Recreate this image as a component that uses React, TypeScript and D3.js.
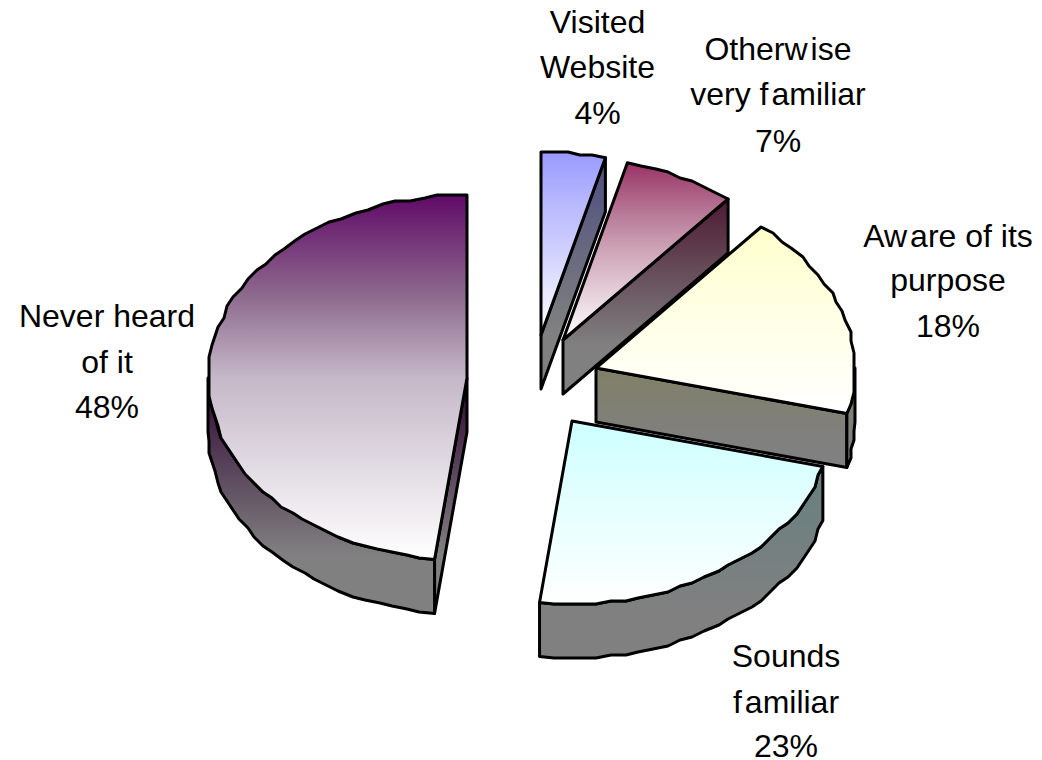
import React from "react";
import * as d3 from "d3";

const categories = ["Visited Website", "Otherwise very familiar", "Aware of its purpose", "Sounds familiar", "Never heard of it"];
const values = [4, 7, 18, 23, 48];
const labelLines = [["Visited", "Website", "4%"], ["Otherwise", "very familiar", "7%"], ["Aware of its", "purpose", "18%"], ["Sounds", "familiar", "23%"], ["Never heard", "of it", "48%"]];
const topColors = ["#9999ff", "#993366", "#ffffcc", "#ccffff", "#600a68"];
// face colours at 28% and 50% of each face's height
const midColors28 = ["#b8b8ff", "#b77896", "#ffffdb", "#dcffff", "#8e6b8e"];
const midColors50 = ["#ccccff", "#cfa6b8", "#ffffe6", "#e6ffff", "#c5b8c8"];

// layout
const W = 1042, H = 760;
const RX = 259, RY = 183, DEPTH = 54;
const apexX = [541, 563, 596, 572, 467];
const apexY = [335, 340, 368, 421, 378];
const labelX = [597.5, 778, 948, 786, 107];
const labelY = [[33, 78, 124], [60, 105, 152], [247, 291, 337], [667, 713, 757], [327, 373, 418]];
const FONT = 32;

const sx = d3.scaleLinear().domain([-1, 1]).range([-RX, RX]);
const sy = d3.scaleLinear().domain([-1, 1]).range([-RY, RY]);
const Q = 3;
const snap = (v: number) => Math.round(v / Q) * Q;
const line = d3.line<[number, number]>();

const slices = d3.pie<number>().sort(null)(values);

function arcPts(a0: number, a1: number): [number, number][] {
  const pts: [number, number][] = [];
  const n = Math.max(2, Math.round((a1 - a0) / (3.2 * Math.PI / 180)));
  for (let i = 0; i <= n; i++) {
    const a = a0 + ((a1 - a0) * i) / n;
    const x = sx(Math.sin(a)), y = sy(-Math.cos(a));
    pts.push(i === 0 || i === n ? [x, y] : [snap(x), snap(y)]);
  }
  return pts;
}
const shift = (p: [number, number][], dx: number, dy: number): [number, number][] => p.map(([x, y]) => [x + dx, y + dy]);
const dark = (c: string) => d3.interpolateRgb(c, "#000000")(0.5);

function wallsOf(i: number): [number, number][][] {
  const s = slices[i];
  const cx = apexX[i], cy = apexY[i];
  const rim = shift(arcPts(s.startAngle, s.endAngle), cx, cy);
  const apex: [number, number] = [cx, cy];
  const first = rim[0], last = rim[rim.length - 1];
  const walls: [number, number][][] = [];
  if (s.endAngle < Math.PI) walls.push([apex, last, [last[0], last[1] + DEPTH], [cx, cy + DEPTH]]);
  if (s.startAngle > Math.PI) walls.push([apex, first, [first[0], first[1] + DEPTH], [cx, cy + DEPTH]]);
  const a0 = Math.max(s.startAngle, Math.PI / 2), a1 = Math.min(s.endAngle, (3 * Math.PI) / 2);
  if (a1 > a0) {
    const t = shift(arcPts(a0, a1), cx, cy);
    walls.push([...t, ...shift(t, 0, DEPTH).reverse()]);
  }
  return walls;
}

function Label({ text, x, y }: { text: string; x: number; y: number }) {
  const m = text.match(/^(Aw|Otherw|very f|f)([ai].*)$/);
  return (
    <text x={x} y={y} textAnchor="middle" fontFamily="'Liberation Sans', Arial, sans-serif" fontSize={FONT} fill="#000">
      {m ? (<><tspan>{m[1]}</tspan><tspan dx={3}>{m[2]}</tspan></>) : text}
    </text>
  );
}

export default function App() {
  return (
    <svg width={W} height={H} viewBox={`0 0 ${W} ${H}`} style={{ position: "absolute", left: 0, top: 0, background: "#fff" }}>
      <defs>
        {slices.map((s, i) => {
          const pts = arcPts(s.startAngle, s.endAngle);
          const ys = [...pts.map((p) => p[1]), 0];
          const top = apexY[i] + d3.min(ys)!, bot = apexY[i] + d3.max(ys)!;
          const wallYs = wallsOf(i).flat().map((p) => p[1]);
          return (
            <React.Fragment key={i}>
              <linearGradient id={`face${i}`} gradientUnits="userSpaceOnUse" x1={0} x2={0} y1={top} y2={bot}>
                <stop offset="0" stopColor={topColors[i]} />
                <stop offset="0.28" stopColor={midColors28[i]} />
                <stop offset="0.5" stopColor={midColors50[i]} />
                <stop offset="1" stopColor="#ffffff" />
              </linearGradient>
              <linearGradient id={`side${i}`} gradientUnits="userSpaceOnUse" x1={0} x2={0} y1={d3.min(wallYs)!} y2={d3.max(wallYs)!}>
                <stop offset="0" stopColor={dark(topColors[i])} />
                <stop offset="0.75" stopColor="#808080" />
                <stop offset="1" stopColor="#808080" />
              </linearGradient>
            </React.Fragment>
          );
        })}
      </defs>
      {slices.map((s, i) => {
        const apex: [number, number] = [apexX[i], apexY[i]];
        const rim = shift(arcPts(s.startAngle, s.endAngle), apexX[i], apexY[i]);
        return (
          <g key={categories[i]} stroke="#000" strokeWidth={3} strokeLinejoin="round">
            {wallsOf(i).map((w, j) => (
              <path key={j} d={line(w)! + "Z"} fill={`url(#side${i})`} />
            ))}
            <path d={line([apex, ...rim])! + "Z"} fill={`url(#face${i})`} />
          </g>
        );
      })}
      {labelLines.map((ls, i) =>
        ls.map((t, j) => <Label key={`${i}-${j}`} text={t} x={labelX[i]} y={labelY[i][j]} />)
      )}
    </svg>
  );
}
